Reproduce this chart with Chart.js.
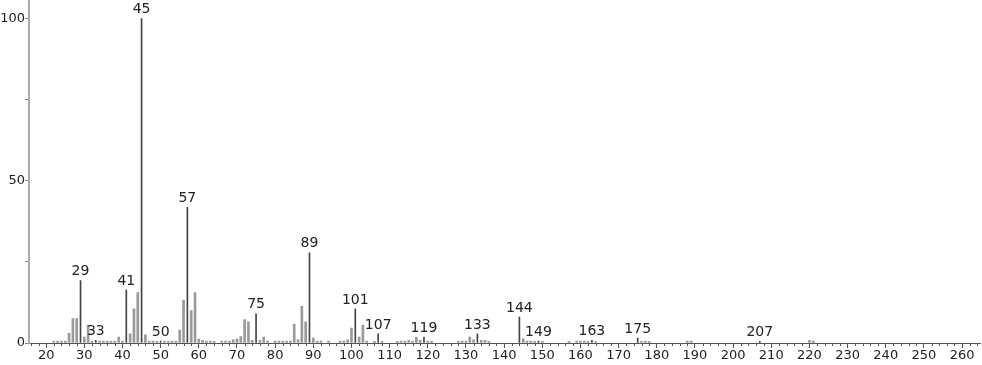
<!DOCTYPE html>
<html>
<head>
<meta charset="utf-8">
<script src="https://cdn.jsdelivr.net/npm/chart.js@4.4.0/dist/chart.umd.min.js"></script>
<style>
  body { margin: 0; background: #fff; }
  canvas { display: block; }
</style>
</head>
<body>
<canvas id="canvas-ms" width="982" height="365"></canvas>
<script>
// m/z values and relative intensities
const massValues = [22, 23, 24, 25, 26, 27, 28, 29, 30, 31, 32, 33, 34, 35, 36, 37, 38, 39, 40,
  41, 42, 43, 44, 45, 46, 47, 48, 49, 50, 51, 52, 53, 54, 55, 56, 57, 58, 59, 60,
  61, 62, 63, 64, 66, 67, 68, 69, 70, 71, 72, 73, 74, 75, 76, 77, 78, 80,
  81, 82, 83, 84, 85, 86, 87, 88, 89, 90, 91, 92, 94, 97, 98, 99, 100,
  101, 102, 103, 104, 106, 107, 108, 112, 113, 114, 115, 116, 117, 118, 119, 120,
  121, 128, 129, 130, 131, 132, 133, 134, 135, 136, 144, 145, 146, 147, 148, 149, 150,
  157, 159, 160, 161, 162, 163, 164, 175, 176, 177, 178, 188, 189, 207, 220, 221];
const intensities = [0.6, 0.6, 0.6, 0.6, 3, 7.5, 7.5, 19.2, 1.8, 5.5, 0.5, 0.8, 0.6, 0.6, 0.6, 0.6, 0.6, 1.8, 0.6,
  16.3, 2.8, 10.5, 15.5, 100, 2.5, 0.6, 0.6, 0.5, 0.6, 0.6, 0.6, 0.6, 0.6, 4, 13.2, 41.8, 10, 15.5, 1.2,
  0.8, 0.6, 0.6, 0.5, 0.6, 0.6, 0.6, 1, 1.2, 2, 7.2, 6.5, 0.8, 9, 0.8, 1.8, 0.6, 0.6,
  0.6, 0.6, 0.6, 0.6, 5.8, 1, 11.3, 6.5, 27.8, 1.5, 0.6, 0.6, 0.6, 0.6, 0.6, 1, 4.6,
  10.5, 1.8, 5.5, 0.6, 0.5, 2.8, 0.5, 0.5, 0.6, 0.6, 0.8, 0.6, 1.8, 0.8, 1.8, 0.6,
  0.5, 0.5, 0.6, 0.6, 1.8, 1, 2.8, 0.8, 0.8, 0.5, 8, 1.3, 0.6, 0.6, 0.5, 0.6, 0.5,
  0.5, 0.6, 0.6, 0.6, 0.5, 0.8, 0.5, 1.5, 0.5, 0.6, 0.5, 0.6, 0.6, 0.5, 0.8, 0.6];
// peaks that carry a label
const labeledPeaks = [29, 33, 41, 45, 50, 57, 75, 89, 101, 107, 119, 133, 144, 149, 163, 175, 207];

const fontFamily = "'DejaVu Sans', sans-serif";

const allPoints = massValues.map((m, i) => ({ x: m, y: intensities[i] }));
const labeledPoints = allPoints.filter(p => labeledPeaks.includes(p.x));
const otherPoints = allPoints.filter(p => !labeledPeaks.includes(p.x));

// minor ticks on x axis every 2 units
const minorTicks = {
  id: 'minorTicks',
  afterDraw(chart) {
    const ctx = chart.ctx;
    const xs = chart.scales.x;
    const y0 = xs.top;
    ctx.save();
    ctx.strokeStyle = '#555';
    ctx.lineWidth = 1;
    for (let v = 16; v <= 264; v += 2) {
      if (v % 10 === 0) continue;
      const px = Math.round(xs.getPixelForValue(v)) + 0.5;
      ctx.beginPath();
      ctx.moveTo(px, y0);
      ctx.lineTo(px, y0 + 3);
      ctx.stroke();
    }
    ctx.restore();
  }
};

// m/z labels above the labelled peaks
const peakLabels = {
  id: 'peakLabels',
  afterDatasetsDraw(chart) {
    const ctx = chart.ctx;
    const meta = chart.getDatasetMeta(0);
    ctx.save();
    ctx.fillStyle = '#222';
    ctx.font = '14px ' + fontFamily;
    ctx.textAlign = 'center';
    ctx.textBaseline = 'bottom';
    meta.data.forEach((bar, i) => {
      const p = labeledPoints[i];
      ctx.fillText(String(p.x), bar.x, bar.y - 2);
    });
    ctx.restore();
  }
};

const ctx = document.getElementById('canvas-ms').getContext('2d');
const chart = new Chart(ctx, {
  type: 'bar',
  data: {
    datasets: [{
      label: 'labelled',
      data: labeledPoints,
      backgroundColor: '#444',
      barThickness: 1,
      grouped: false
    }, {
      label: 'other',
      data: otherPoints,
      backgroundColor: '#9a9a9a',
      barThickness: 2,
      grouped: false
    }]
  },
  options: {
    responsive: false,
    animation: false,
    layout: { padding: { top: 0, right: 2, left: 0, bottom: 0 } },
    plugins: {
      legend: { display: false },
      tooltip: { enabled: false }
    },
    scales: {
      x: {
        type: 'linear',
        offset: false,
        min: 15.5,
        max: 264.7,
        afterBuildTicks(scale) {
          const t = [];
          for (let v = 20; v <= 260; v += 10) t.push({ value: v });
          scale.ticks = t;
        },
        afterFit(scale) { scale.height = 22; },
        border: { display: true, color: '#555', width: 1 },
        grid: { display: true, offset: false, drawOnChartArea: false, drawTicks: true, tickLength: 5, color: '#555' },
        ticks: {
          color: '#222',
          font: { family: fontFamily, size: 13 },
          padding: 0,
          maxRotation: 0,
          autoSkip: false
        }
      },
      y: {
        min: 0,
        max: 105.5,
        afterBuildTicks(scale) {
          scale.ticks = [0, 25, 50, 75, 100].map(v => ({ value: v }));
        },
        afterFit(scale) { scale.width = 29; },
        border: { display: true, color: '#aaa', width: 2 },
        grid: { display: true, drawOnChartArea: false, drawTicks: true, tickLength: 4, color: '#888' },
        ticks: {
          color: '#222',
          font: { family: fontFamily, size: 13, lineHeight: 0.1 },
          padding: 0,
          callback: v => (v % 50 === 0 ? String(v) : '')
        }
      }
    }
  },
  plugins: [minorTicks, peakLabels]
});
</script>
</body>
</html>
